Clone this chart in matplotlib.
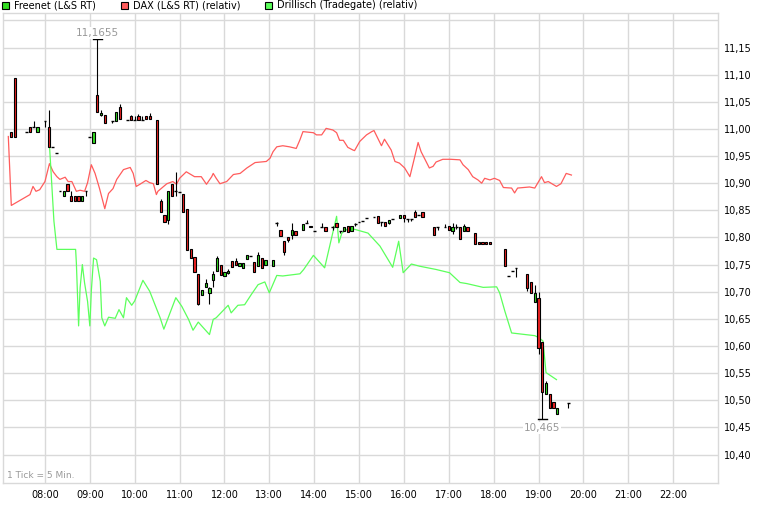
import matplotlib
matplotlib.use("Agg")
import matplotlib.pyplot as plt
from matplotlib.patches import Rectangle

plt.rcParams['font.family'] = ['DejaVu Sans']

# ---------------- data ----------------
# Freenet (L&S RT), 5-minute candles
candle_time = ["07:15", "07:20", "07:35", "07:40", "07:45", "07:50", "08:00", "08:05", "08:10", "08:15",
               "08:20", "08:25", "08:30", "08:35", "08:40", "08:45", "08:50", "08:55", "09:00", "09:05",
               "09:10", "09:15", "09:20", "09:30", "09:35", "09:40", "09:50", "09:55", "10:00", "10:05",
               "10:10", "10:15", "10:20", "10:30", "10:35", "10:40", "10:45", "10:50", "10:55", "11:00",
               "11:05", "11:10", "11:15", "11:20", "11:25", "11:30", "11:35", "11:40", "11:45", "11:50",
               "11:55", "12:00", "12:05", "12:10", "12:15", "12:20", "12:25", "12:30", "12:35", "12:40",
               "12:45", "12:50", "12:55", "13:05", "13:10", "13:15", "13:20", "13:25", "13:30", "13:35",
               "13:45", "13:50", "13:55", "14:00", "14:10", "14:15", "14:25", "14:30", "14:35", "14:40",
               "14:45", "14:50", "14:55", "15:00", "15:05", "15:10", "15:20", "15:25", "15:30", "15:35",
               "15:40", "15:45", "15:55", "16:00", "16:05", "16:10", "16:15", "16:20", "16:25", "16:40",
               "16:45", "16:55", "17:00", "17:05", "17:10", "17:15", "17:20", "17:25", "17:35", "17:40",
               "17:45", "17:50", "17:55", "18:15", "18:20", "18:25", "18:30", "18:45", "18:50", "18:55",
               "19:00", "19:05", "19:10", "19:15", "19:20", "19:25", "19:40"]
candle_open = [10.995, 11.093, 10.995, 11.004, 11.004, 10.995, 11.015, 11.004, 10.966, 10.955,
               10.886, 10.877, 10.898, 10.877, 10.877, 10.877, 10.868, 10.886, 10.986, 10.974,
               11.063, 11.026, 11.026, 11.015, 11.015, 11.041, 11.017, 11.023, 11.017, 11.024,
               11.017, 11.024, 11.024, 11.017, 10.868, 10.841, 10.833, 10.898, 10.886, 10.883,
               10.880, 10.853, 10.779, 10.764, 10.733, 10.694, 10.709, 10.698, 10.722, 10.738,
               10.749, 10.729, 10.734, 10.756, 10.756, 10.748, 10.744, 10.761, 10.765, 10.755,
               10.748, 10.762, 10.749, 10.748, 10.826, 10.814, 10.793, 10.800, 10.805, 10.811,
               10.814, 10.826, 10.822, 10.812, 10.820, 10.820, 10.819, 10.826, 10.812, 10.811,
               10.822, 10.812, 10.824, 10.828, 10.831, 10.836, 10.837, 10.840, 10.828, 10.828,
               10.826, 10.834, 10.835, 10.842, 10.834, 10.834, 10.846, 10.842, 10.847, 10.819,
               10.819, 10.819, 10.822, 10.812, 10.820, 10.820, 10.811, 10.819, 10.808, 10.792,
               10.792, 10.792, 10.792, 10.778, 10.729, 10.738, 10.743, 10.733, 10.718, 10.681,
               10.688, 10.607, 10.511, 10.511, 10.497, 10.474, 10.495]
candle_high = [10.995, 11.093, 10.995, 11.004, 11.015, 11.004, 11.015, 11.034, 10.966, 10.955,
               10.886, 10.886, 10.898, 10.886, 10.877, 10.877, 10.877, 10.886, 10.986, 10.995,
               11.1655, 11.035, 11.026, 11.015, 11.032, 11.045, 11.017, 11.026, 11.023, 11.028,
               11.024, 11.024, 11.030, 11.017, 10.871, 10.841, 10.885, 10.898, 10.920, 10.883,
               10.880, 10.853, 10.779, 10.764, 10.733, 10.703, 10.724, 10.709, 10.738, 10.765,
               10.749, 10.736, 10.742, 10.756, 10.762, 10.752, 10.752, 10.768, 10.765, 10.755,
               10.773, 10.762, 10.758, 10.758, 10.829, 10.814, 10.793, 10.800, 10.826, 10.811,
               10.825, 10.833, 10.822, 10.812, 10.826, 10.820, 10.822, 10.826, 10.812, 10.819,
               10.822, 10.822, 10.826, 10.828, 10.831, 10.836, 10.837, 10.840, 10.828, 10.828,
               10.833, 10.834, 10.841, 10.842, 10.834, 10.834, 10.850, 10.842, 10.847, 10.819,
               10.819, 10.825, 10.822, 10.826, 10.825, 10.820, 10.825, 10.819, 10.808, 10.792,
               10.792, 10.792, 10.792, 10.778, 10.729, 10.738, 10.743, 10.733, 10.718, 10.713,
               10.699, 10.607, 10.536, 10.511, 10.497, 10.485, 10.495]
candle_low = [10.986, 10.986, 10.995, 10.995, 11.004, 10.995, 11.004, 10.966, 10.966, 10.955,
              10.886, 10.877, 10.886, 10.868, 10.868, 10.868, 10.868, 10.877, 10.986, 10.974,
              11.032, 11.023, 11.010, 11.010, 11.015, 11.018, 11.017, 11.017, 11.017, 11.017,
              11.017, 11.018, 11.018, 10.899, 10.847, 10.828, 10.825, 10.877, 10.877, 10.883,
              10.847, 10.776, 10.762, 10.736, 10.675, 10.694, 10.709, 10.678, 10.709, 10.738,
              10.730, 10.729, 10.733, 10.745, 10.750, 10.748, 10.744, 10.761, 10.765, 10.736,
              10.748, 10.744, 10.749, 10.748, 10.822, 10.803, 10.768, 10.791, 10.797, 10.805,
              10.814, 10.826, 10.819, 10.812, 10.820, 10.812, 10.814, 10.819, 10.808, 10.811,
              10.810, 10.812, 10.822, 10.828, 10.831, 10.836, 10.837, 10.826, 10.822, 10.822,
              10.824, 10.834, 10.835, 10.828, 10.828, 10.830, 10.837, 10.842, 10.837, 10.805,
              10.814, 10.819, 10.814, 10.806, 10.816, 10.798, 10.811, 10.811, 10.787, 10.787,
              10.787, 10.787, 10.787, 10.748, 10.729, 10.738, 10.727, 10.701, 10.698, 10.681,
              10.586, 10.465, 10.511, 10.485, 10.485, 10.474, 10.485]
candle_close = [10.986, 10.986, 10.995, 10.995, 11.004, 11.004, 11.015, 10.966, 10.966, 10.955,
                10.886, 10.886, 10.886, 10.868, 10.868, 10.868, 10.877, 10.886, 10.986, 10.995,
                11.032, 11.030, 11.010, 11.015, 11.032, 11.018, 11.017, 11.017, 11.017, 11.017,
                11.017, 11.018, 11.018, 10.899, 10.847, 10.828, 10.885, 10.877, 10.886, 10.883,
                10.847, 10.776, 10.762, 10.736, 10.678, 10.703, 10.716, 10.707, 10.732, 10.762,
                10.730, 10.736, 10.739, 10.745, 10.750, 10.752, 10.752, 10.768, 10.765, 10.736,
                10.768, 10.744, 10.758, 10.758, 10.826, 10.803, 10.773, 10.795, 10.814, 10.805,
                10.825, 10.826, 10.819, 10.812, 10.820, 10.812, 10.819, 10.819, 10.812, 10.819,
                10.810, 10.822, 10.824, 10.828, 10.831, 10.836, 10.837, 10.826, 10.828, 10.822,
                10.833, 10.834, 10.841, 10.835, 10.834, 10.834, 10.837, 10.842, 10.837, 10.805,
                10.819, 10.819, 10.814, 10.820, 10.820, 10.798, 10.822, 10.811, 10.787, 10.787,
                10.787, 10.787, 10.787, 10.748, 10.729, 10.738, 10.743, 10.707, 10.698, 10.698,
                10.597, 10.516, 10.531, 10.485, 10.485, 10.485, 10.495]

# DAX (L&S RT) relative to Freenet
dax_time = ["07:11", "07:15", "07:40", "07:44", "07:48", "07:53", "08:00", "08:06", "08:11", "08:16",
            "08:20", "08:27", "08:31", "08:36", "08:42", "08:47", "08:53", "08:57", "09:02", "09:07",
            "09:13", "09:20", "09:25", "09:31", "09:36", "09:45", "09:54", "09:58", "10:02", "10:07",
            "10:15", "10:20", "10:25", "10:29", "10:31", "10:43", "10:51", "10:56", "11:00", "11:09",
            "11:20", "11:29", "11:36", "11:43", "11:45", "11:49", "11:54", "12:03", "12:12", "12:21",
            "12:30", "12:41", "12:56", "13:01", "13:05", "13:10", "13:18", "13:27", "13:36", "13:41",
            "13:45", "13:59", "14:03", "14:10", "14:16", "14:25", "14:30", "14:34", "14:39", "14:45",
            "14:52", "14:54", "15:01", "15:10", "15:17", "15:20", "15:30", "15:34", "15:43", "15:48",
            "15:54", "16:01", "16:08", "16:14", "16:19", "16:23", "16:34", "16:39", "16:43", "16:52",
            "17:03", "17:15", "17:19", "17:26", "17:32", "17:39", "17:44", "17:48", "17:55", "18:01",
            "18:08", "18:13", "18:24", "18:28", "18:32", "18:48", "18:55", "19:04", "19:08", "19:13",
            "19:24", "19:30", "19:37", "19:44"]
dax_value = [10.986, 10.859, 10.879, 10.894, 10.885, 10.888, 10.903, 10.936, 10.921, 10.912,
             10.907, 10.911, 10.903, 10.903, 10.885, 10.887, 10.885, 10.901, 10.934, 10.918,
             10.890, 10.853, 10.881, 10.890, 10.907, 10.925, 10.929, 10.918, 10.894, 10.898,
             10.905, 10.901, 10.899, 10.879, 10.885, 10.899, 10.903, 10.898, 10.909, 10.921,
             10.912, 10.912, 10.898, 10.912, 10.918, 10.909, 10.899, 10.903, 10.916, 10.918,
             10.928, 10.938, 10.940, 10.946, 10.958, 10.967, 10.969, 10.967, 10.964, 10.980,
             10.995, 10.993, 10.989, 10.989, 11.001, 10.998, 10.993, 10.979, 10.979, 10.966,
             10.961, 10.960, 10.977, 10.989, 10.995, 10.997, 10.969, 10.981, 10.961, 10.940,
             10.937, 10.928, 10.912, 10.946, 10.975, 10.958, 10.928, 10.931, 10.939, 10.944,
             10.944, 10.943, 10.934, 10.925, 10.912, 10.906, 10.900, 10.909, 10.906, 10.909,
             10.905, 10.892, 10.891, 10.882, 10.891, 10.893, 10.891, 10.912, 10.901, 10.903,
             10.894, 10.899, 10.918, 10.915]

# Drillisch (Tradegate) relative to Freenet
dri_time = ["08:06", "08:12", "08:16", "08:41", "08:42", "08:45", "08:47", "08:50", "08:53", "08:57",
            "09:00", "09:02", "09:05", "09:09", "09:14", "09:16", "09:20", "09:25", "09:34", "09:39",
            "09:45", "09:49", "09:56", "10:00", "10:11", "10:20", "10:34", "10:39", "10:55", "11:03",
            "11:12", "11:18", "11:25", "11:40", "11:45", "11:49", "12:05", "12:09", "12:18", "12:27",
            "12:36", "12:45", "12:54", "13:00", "13:10", "13:18", "13:41", "13:46", "13:59", "14:14",
            "14:30", "14:33", "14:37", "14:44", "14:54", "15:12", "15:28", "15:45", "15:53", "15:59",
            "16:10", "16:21", "16:43", "17:01", "17:15", "17:24", "17:46", "18:04", "18:08", "18:15",
            "18:24", "18:55", "19:01", "19:06", "19:10", "19:24"]
dri_value = [10.971, 10.830, 10.778, 10.778, 10.753, 10.637, 10.707, 10.750, 10.716, 10.682,
             10.637, 10.701, 10.762, 10.759, 10.719, 10.652, 10.637, 10.653, 10.651, 10.667,
             10.652, 10.689, 10.675, 10.683, 10.721, 10.701, 10.652, 10.631, 10.689, 10.673,
             10.649, 10.629, 10.644, 10.621, 10.649, 10.652, 10.675, 10.661, 10.675, 10.676,
             10.695, 10.713, 10.718, 10.698, 10.730, 10.729, 10.733, 10.741, 10.767, 10.744,
             10.839, 10.790, 10.808, 10.815, 10.815, 10.808, 10.784, 10.745, 10.793, 10.735,
             10.751, 10.747, 10.741, 10.735, 10.717, 10.715, 10.708, 10.709, 10.698, 10.664,
             10.624, 10.619, 10.615, 10.609, 10.551, 10.538]

hour_labels = ["08:00", "09:00", "10:00", "11:00", "12:00", "13:00", "14:00", "15:00",
               "16:00", "17:00", "18:00", "19:00", "20:00", "21:00", "22:00"]
price_ticks = [10.40, 10.45, 10.50, 10.55, 10.60, 10.65, 10.70, 10.75, 10.80,
               10.85, 10.90, 10.95, 11.00, 11.05, 11.10, 11.15, 11.20]
legend_labels = ["Freenet (L&S RT)", "DAX (L&S RT) (relativ)", "Drillisch (Tradegate) (relativ)"]


def to_h(s):
    h, m = s.split(":")
    return int(h) + int(m) / 60.0


# ---------------- figure ----------------
W, H = 760, 517
fig = plt.figure(figsize=(W / 100, H / 100), dpi=100)
fig.patch.set_facecolor("white")
L, R, T, B = 3, 718, 13, 483
ax = fig.add_axes([L / W, 1 - B / H, (R - L) / W, (B - T) / H])
ax.set_xlim(7.065, 23.0)
ax.set_ylim(10.3475, 11.2136)

grid_c = "#d9d9d9"
for s in ax.spines.values():
    s.set_color(grid_c)
    s.set_linewidth(1.0)
ax.set_xticks([to_h(t) for t in hour_labels])
ax.set_xticklabels(hour_labels)
ax.set_yticks(price_ticks)
ax.set_yticklabels([("%.2f" % v).replace(".", ",") if v < 11.18 else "" for v in price_ticks])
ax.yaxis.tick_right()
ax.tick_params(axis="both", length=0, labelsize=7, colors="black")
ax.tick_params(axis="y", pad=4)
ax.tick_params(axis="x", pad=5)
ax.grid(True, color=grid_c, linewidth=1.0)
ax.set_axisbelow(True)

red_line = "#ff5c5c"
green_line = "#5cff5c"
ax.plot([to_h(t) for t in dax_time], dax_value, color=red_line, lw=0.9, zorder=2)
ax.plot([to_h(t) for t in dri_time], dri_value, color=green_line, lw=0.9, zorder=2)

body_w = 3.0 / 60.0
for t, o, hi, lo, c in zip(candle_time, candle_open, candle_high, candle_low, candle_close):
    x = to_h(t)
    if hi > lo:
        ax.plot([x, x], [lo, hi], color="black", lw=0.8, zorder=3, solid_capstyle="butt")
    if abs(o - c) < 1e-9:
        ax.plot([x - body_w / 2 - 0.006, x + body_w / 2 + 0.006], [o, o], color="black", lw=1.0,
                zorder=4, solid_capstyle="butt")
    else:
        fc = "#ee2222" if c < o else "#33dd22"
        ax.add_patch(Rectangle((x - body_w / 2, min(o, c)), body_w, abs(c - o),
                               facecolor=fc, edgecolor="black", lw=0.8, zorder=4))

# extremes
hi_i = candle_high.index(max(candle_high))
lo_i = candle_low.index(min(candle_low))
for i, val, va, off in [(hi_i, candle_high[hi_i], "bottom", 1), (lo_i, candle_low[lo_i], "top", -3)]:
    x = to_h(candle_time[i])
    ax.plot([x - 0.1, x + 0.1], [val, val], color="black", lw=1.0, zorder=5)
    txt = ("%.4f" % val).rstrip("0").replace(".", ",")
    ax.annotate(txt, (x, val), xytext=(0, off), textcoords="offset points", ha="center", va=va,
                fontsize=7.5, color="#999999", zorder=6,
                bbox=dict(boxstyle="square,pad=0.1", fc="white", ec="none"))

ax.text(4 / (R - L), (B - 476) / (B - T), "1 Tick = 5 Min.", transform=ax.transAxes,
        fontsize=6.5, color="#999999", va="center", ha="left")

# legend at top
leg_colors = ["#33dd22", "#ff5c5c", "#5cff5c"]
leg_x = [2, 121, 265]
for lx, col, lab in zip(leg_x, leg_colors, legend_labels):
    fig.add_artist(Rectangle((lx / W, 1 - 9 / H), 7 / W, 7 / H, transform=fig.transFigure,
                             facecolor=col, edgecolor="black", lw=0.8))
    fig.text((lx + 12) / W, 1 - 5.5 / H, lab, fontsize=7, va="center", ha="left", color="black")

fig.savefig("out.png", dpi=100, facecolor="white")
